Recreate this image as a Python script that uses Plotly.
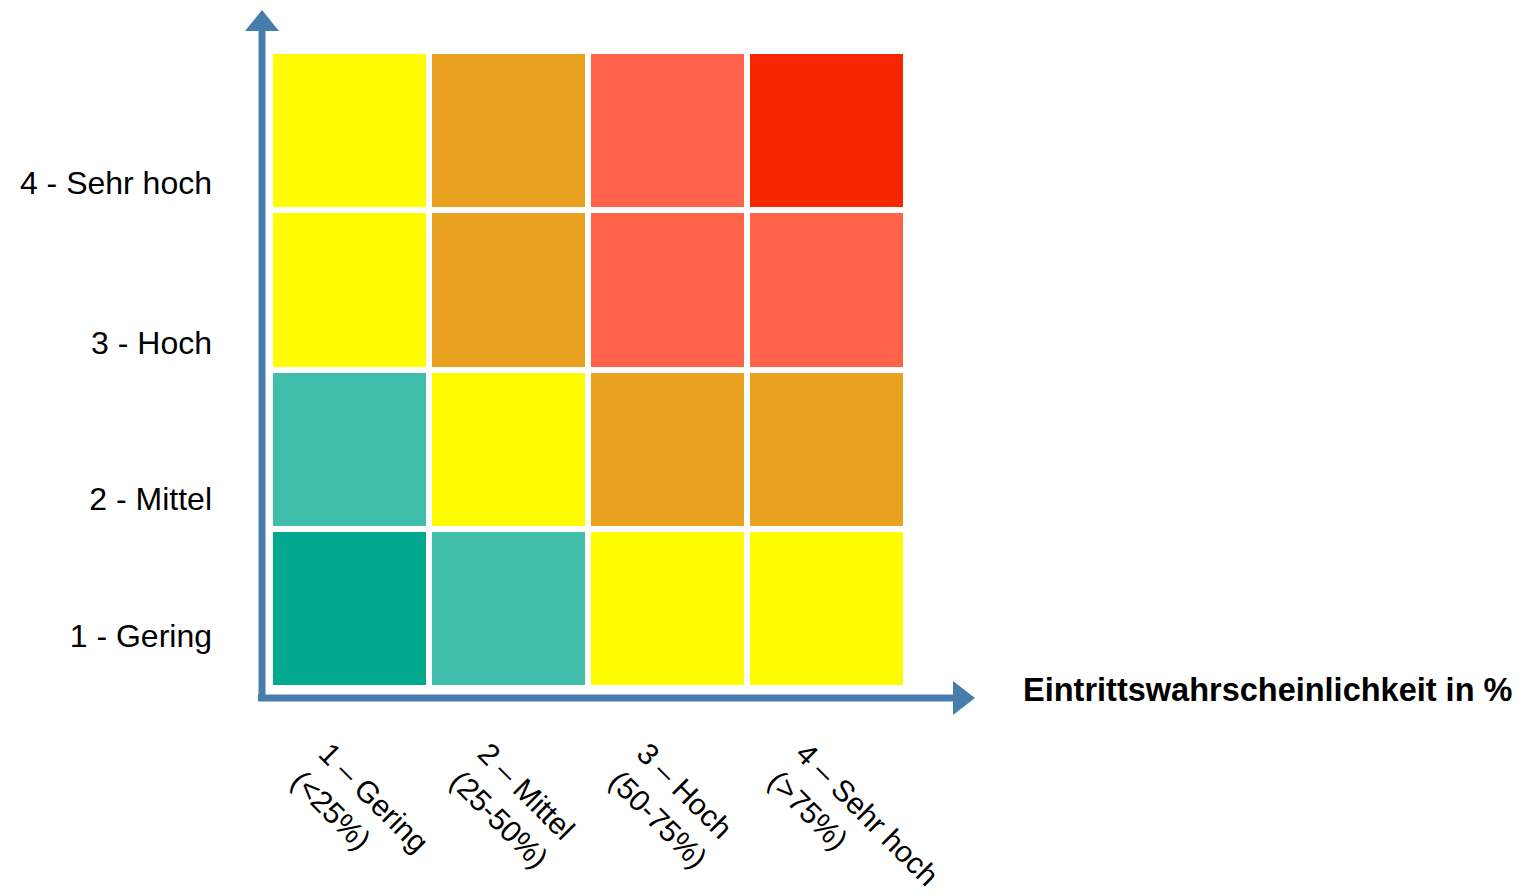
import plotly.graph_objects as go

# ---- data ----
x_labels = ["1 – Gering<br>(&lt;25%)", "2 – Mittel<br>(25-50%)",
            "3 – Hoch<br>(50-75%)", "4 – Sehr hoch<br>(&gt;75%)"]
y_labels = ["1 - Gering", "2 - Mittel", "3 - Hoch", "4 - Sehr hoch"]
y_label_pos = [-0.17, 0.69, 1.67, 2.67]
# risk level per cell, rows bottom (Gering) -> top (Sehr hoch)
risk = [
    [1, 2, 3, 3],
    [2, 3, 4, 4],
    [3, 4, 5, 5],
    [3, 4, 5, 6],
]
level_colors = ["#03A98F", "#40BEAB", "#FFFB00", "#E9A21F", "#FF644B", "#F82600"]
x_title = "Eintrittswahrscheinlichkeit in %"

# discrete colorscale
n = len(level_colors)
cs = []
for i, c in enumerate(level_colors):
    cs.append([i / n, c])
    cs.append([(i + 1) / n, c])

fig = go.Figure(go.Heatmap(
    z=risk, x=list(range(4)), y=list(range(4)),
    zmin=0.5, zmax=n + 0.5, colorscale=cs, showscale=False,
    xgap=6, ygap=6, hoverinfo="skip"))

W, H = 1526, 896
L, R, T, B = 270, 620, 51, 208
pw, ph = W - L - R, H - T - B

def px(x):
    return (x - L) / pw

def py(y):
    return (H - B - y) / ph

axis_col = "#467DAC"
shapes = [
    dict(type="line", xref="paper", yref="paper", x0=px(262), x1=px(262), y0=py(698), y1=py(30),
         line=dict(color=axis_col, width=7)),
    dict(type="path", xref="paper", yref="paper",
         path=f"M {px(245)},{py(31)} L {px(279)},{py(31)} L {px(262)},{py(10)} Z",
         fillcolor=axis_col, line=dict(width=0)),
    dict(type="line", xref="paper", yref="paper", x0=px(258), x1=px(954), y0=py(698), y1=py(698),
         line=dict(color=axis_col, width=7)),
    dict(type="path", xref="paper", yref="paper",
         path=f"M {px(953)},{py(681)} L {px(953)},{py(715)} L {px(975)},{py(698)} Z",
         fillcolor=axis_col, line=dict(width=0)),
]

font_fam = "Liberation Sans, Arial, sans-serif"
fig.update_layout(
    width=W, height=H, margin=dict(l=L, r=R, t=T, b=B, autoexpand=False),
    paper_bgcolor="white", plot_bgcolor="white",
    shapes=shapes,
    xaxis=dict(range=[-0.5, 3.5], tickvals=list(range(4)), ticktext=x_labels,
               tickangle=45, showgrid=False, zeroline=False, showline=False, ticks="",
               tickfont=dict(family=font_fam, size=30, color="black"), automargin=False,
               ticklabelstandoff=41, ticklabelshift=-22, fixedrange=True),
    yaxis=dict(range=[-0.5, 3.5], tickvals=y_label_pos, ticktext=y_labels,
               showgrid=False, zeroline=False, showline=False, ticks="",
               tickfont=dict(family=font_fam, size=32, color="black"), automargin=False,
               ticklabelstandoff=57, fixedrange=True),
    annotations=[dict(text=f"<b>{x_title}</b>", xref="paper", yref="paper",
                      x=px(1021), y=py(690), xanchor="left", yanchor="middle",
                      showarrow=False, font=dict(family=font_fam, size=32.5, color="black"))],
)

fig.write_html("out.html")
